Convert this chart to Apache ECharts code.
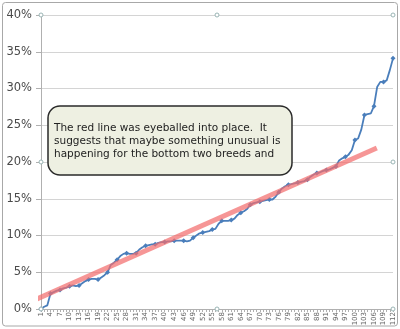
<!DOCTYPE html>
<html><head><meta charset="utf-8">
<script src="https://cdn.jsdelivr.net/npm/echarts@6/dist/echarts.min.js"></script>
<style>html,body{margin:0;padding:0;background:#fff}#c{width:400px;height:329px}</style>
</head><body><div id="c"></div>
<script>
const categories = Array.from({length:112},(_,k)=>String(k+1));
const values = [0,0.3,0.5,2.1,2.3,2.5,2.6,2.8,2.9,3.1,
3.2,3.1,3.2,3.5,3.8,4.0,4.1,4.1,4.0,4.3,
4.6,5.0,6.0,6.3,6.7,7.2,7.5,7.6,7.5,7.5,
7.6,8.1,8.4,8.6,8.7,8.8,8.8,9.0,9.1,9.1,
9.2,9.2,9.3,9.3,9.3,9.3,9.2,9.3,9.7,10.0,
10.3,10.4,10.5,10.6,10.8,10.9,11.6,12.0,12.0,12.0,
12.1,12.3,12.8,13.1,13.3,13.6,14.2,14.4,14.5,14.6,
14.7,14.8,14.9,14.9,15.3,15.9,16.4,16.7,16.9,17.0,
17.1,17.2,17.3,17.4,17.6,18.0,18.3,18.5,18.6,18.8,
18.9,19.0,19.2,19.4,20.2,20.5,20.7,21.0,21.6,23.0,
23.2,24.4,26.4,26.5,26.6,27.6,30.2,30.9,30.9,31.1,
32.5,34.1];
const trendLine = [[-3.2,1.0],[105.9,21.9]];
const yTicks = {min:0,max:40,interval:5};
const noteLines = ["The red line was eyeballed into place.  It","suggests that maybe something unusual is","happening for the bottom two breeds and"];

const chart = echarts.init(document.getElementById('c'),null,{renderer:'canvas'});
const handle = (x,y)=>({type:'circle',shape:{cx:x,cy:y,r:2},style:{fill:'#fff',stroke:'#9ab5b5',lineWidth:1},z:100});
chart.setOption({
  animation:false,
  backgroundColor:'#fff',
  grid:{left:41,right:7,top:15,bottom:20,containLabel:false},
  xAxis:[{
    type:'category',data:categories,boundaryGap:false,
    axisLine:{lineStyle:{color:'#b0b0b0'}},
    axisTick:{interval:0,length:3,lineStyle:{color:'#b0b0b0'}},
    axisLabel:{interval:2,rotate:90,fontSize:7,color:'#666',fontFamily:'DejaVu Sans',margin:3},
    splitLine:{show:false}
  },{
    type:'value',min:0,max:categories.length-1,show:false
  }],
  yAxis:{
    type:'value',min:yTicks.min,max:yTicks.max,interval:yTicks.interval,
    axisLine:{show:true,lineStyle:{color:'#b0b0b0'}},
    axisTick:{show:true,length:5,lineStyle:{color:'#b0b0b0'}},
    axisLabel:{formatter:'{value}%',fontSize:11.5,color:'#4a4a4a',fontFamily:'DejaVu Sans',margin:9},
    splitLine:{lineStyle:{color:'#d4d4d4'}}
  },
  series:[{
    type:'line',data:values,xAxisIndex:0,
    symbol:'diamond',symbolSize:5,showSymbol:true,
    lineStyle:{color:'#4a7ebb',width:1.8},
    itemStyle:{color:'#4a7ebb'},z:2
  },{
    type:'line',data:trendLine,xAxisIndex:1,clip:false,
    symbol:'none',lineStyle:{color:'rgba(242,110,110,0.72)',width:5,cap:'butt'},z:3
  }],
  graphic:[
    {type:'rect',shape:{x:2.5,y:2.5,width:395,height:323.5,r:3},style:{fill:'none',stroke:'#a8a8a8',lineWidth:1},z:0},
    {type:'rect',shape:{x:48,y:106,width:244,height:69,r:12},style:{fill:'#eef0e2',stroke:'#2a2a2a',lineWidth:1.5},z:50},
    {type:'text',x:54,y:122,style:{text:noteLines.join('\n'),font:'10.5px "DejaVu Sans"',fill:'#222',lineHeight:13},z:51},
    handle(41,15),handle(217,15),handle(393,15),handle(41,162),handle(393,162),handle(41,309),handle(217,309),handle(393,309)
  ]
});
</script></body></html>
